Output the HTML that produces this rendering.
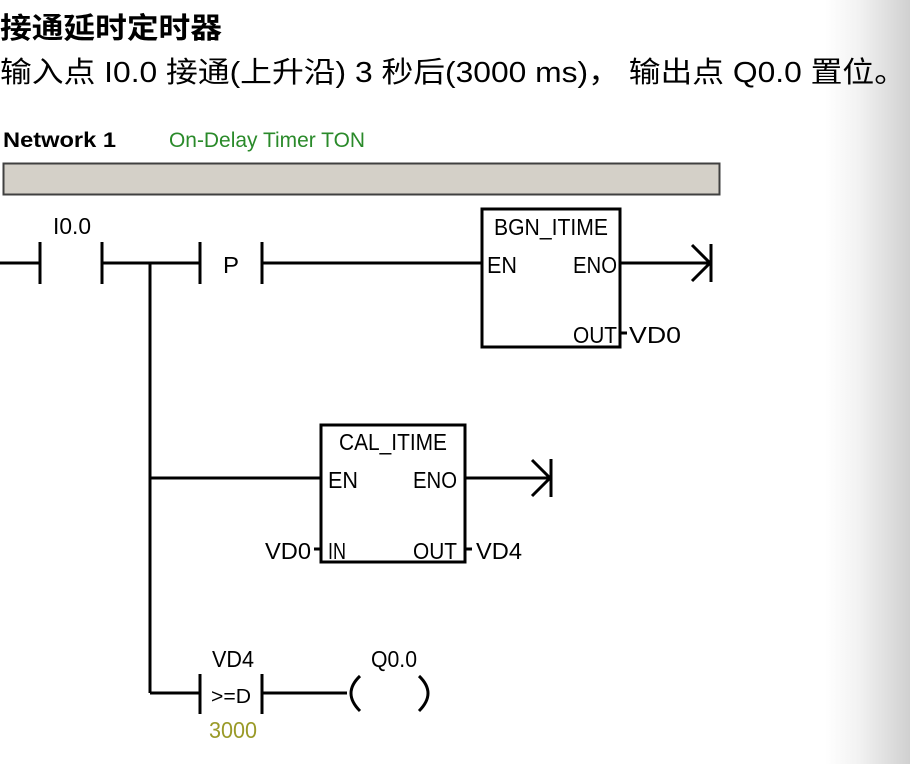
<!DOCTYPE html>
<html><head><meta charset="utf-8"><style>
html,body{margin:0;padding:0;background:#fff;width:910px;height:764px;overflow:hidden}
#g{position:absolute;left:825px;top:0;width:85px;height:764px;background:linear-gradient(to right,#fff,#f2f2f2 40%,#d0d0d0)}
svg{position:absolute;left:0;top:0}
</style></head><body>
<div id="g"></div>
<svg width="910" height="764" xmlns="http://www.w3.org/2000/svg">
<g font-family="Liberation Sans, Noto Sans CJK SC, sans-serif" fill="#000">
<text x="0" y="38" font-size="29" font-weight="bold" textLength="222" lengthAdjust="spacingAndGlyphs">接通延时定时器</text>
<text x="0" y="82" font-size="29" textLength="906" lengthAdjust="spacingAndGlyphs">输入点 I0.0 接通(上升沿) 3 秒后(3000 ms)， 输出点 Q0.0 置位。</text>
<text x="3" y="147" font-size="21" font-weight="bold" textLength="113" lengthAdjust="spacingAndGlyphs">Network 1</text>
<text x="169" y="147" font-size="21" fill="#2a8a2a" textLength="196" lengthAdjust="spacingAndGlyphs">On-Delay Timer TON</text>
</g>
<rect x="3.5" y="163.5" width="716" height="31" fill="#d4d0c8" stroke="#404040" stroke-width="2"/>
<g stroke="#000" stroke-width="3" fill="none">
<line x1="0" y1="263" x2="40" y2="263"/>
<line x1="40" y1="242" x2="40" y2="284"/>
<line x1="102" y1="242" x2="102" y2="284"/>
<line x1="102" y1="263" x2="200" y2="263"/>
<line x1="200" y1="242" x2="200" y2="284"/>
<line x1="262" y1="242" x2="262" y2="284"/>
<line x1="262" y1="263" x2="482" y2="263"/>
<line x1="150" y1="263" x2="150" y2="693"/>
<rect x="482" y="209" width="138" height="138"/>
<line x1="620" y1="263" x2="710" y2="263"/>
<polyline points="692,245 710,263 692,281"/>
<line x1="711" y1="244" x2="711" y2="282"/>
<line x1="620" y1="333" x2="627" y2="333"/>
<line x1="150" y1="478" x2="321" y2="478"/>
<rect x="321" y="425" width="144" height="137"/>
<line x1="465" y1="478" x2="550" y2="478"/>
<polyline points="532,460 550,478 532,496"/>
<line x1="551" y1="459" x2="551" y2="497"/>
<line x1="314" y1="549" x2="321" y2="549"/>
<line x1="465" y1="549" x2="472" y2="549"/>
<line x1="150" y1="693" x2="200" y2="693"/>
<line x1="200" y1="674" x2="200" y2="714"/>
<line x1="262" y1="674" x2="262" y2="714"/>
<line x1="262" y1="693" x2="347" y2="693"/>
<path d="M360,676 Q342,693 360,711"/>
<path d="M419,676 Q437,693 419,711"/>
</g>
<g font-family="Liberation Sans, sans-serif" font-size="23" fill="#000">
<text x="53" y="234" textLength="38" lengthAdjust="spacingAndGlyphs">I0.0</text>
<text x="223" y="273" textLength="16" lengthAdjust="spacingAndGlyphs">P</text>
<text x="494" y="235" textLength="114" lengthAdjust="spacingAndGlyphs">BGN_ITIME</text>
<text x="487" y="273" textLength="30" lengthAdjust="spacingAndGlyphs">EN</text>
<text x="573" y="273" textLength="44" lengthAdjust="spacingAndGlyphs">ENO</text>
<text x="573" y="343" textLength="44" lengthAdjust="spacingAndGlyphs">OUT</text>
<text x="629" y="343" textLength="52" lengthAdjust="spacingAndGlyphs">VD0</text>
<text x="339" y="450" textLength="108" lengthAdjust="spacingAndGlyphs">CAL_ITIME</text>
<text x="328" y="488" textLength="30" lengthAdjust="spacingAndGlyphs">EN</text>
<text x="413" y="488" textLength="44" lengthAdjust="spacingAndGlyphs">ENO</text>
<text x="265" y="559" textLength="46" lengthAdjust="spacingAndGlyphs">VD0</text>
<text x="328" y="559" textLength="18" lengthAdjust="spacingAndGlyphs">IN</text>
<text x="413" y="559" textLength="44" lengthAdjust="spacingAndGlyphs">OUT</text>
<text x="476" y="559" textLength="46" lengthAdjust="spacingAndGlyphs">VD4</text>
<text x="212" y="667" textLength="42" lengthAdjust="spacingAndGlyphs">VD4</text>
<text x="211" y="703" font-size="20" textLength="40" lengthAdjust="spacingAndGlyphs">&gt;=D</text>
<text x="209" y="738" fill="#9a9a28" textLength="48" lengthAdjust="spacingAndGlyphs">3000</text>
<text x="371" y="667" textLength="46" lengthAdjust="spacingAndGlyphs">Q0.0</text>
</g>
</svg>
</body></html>
